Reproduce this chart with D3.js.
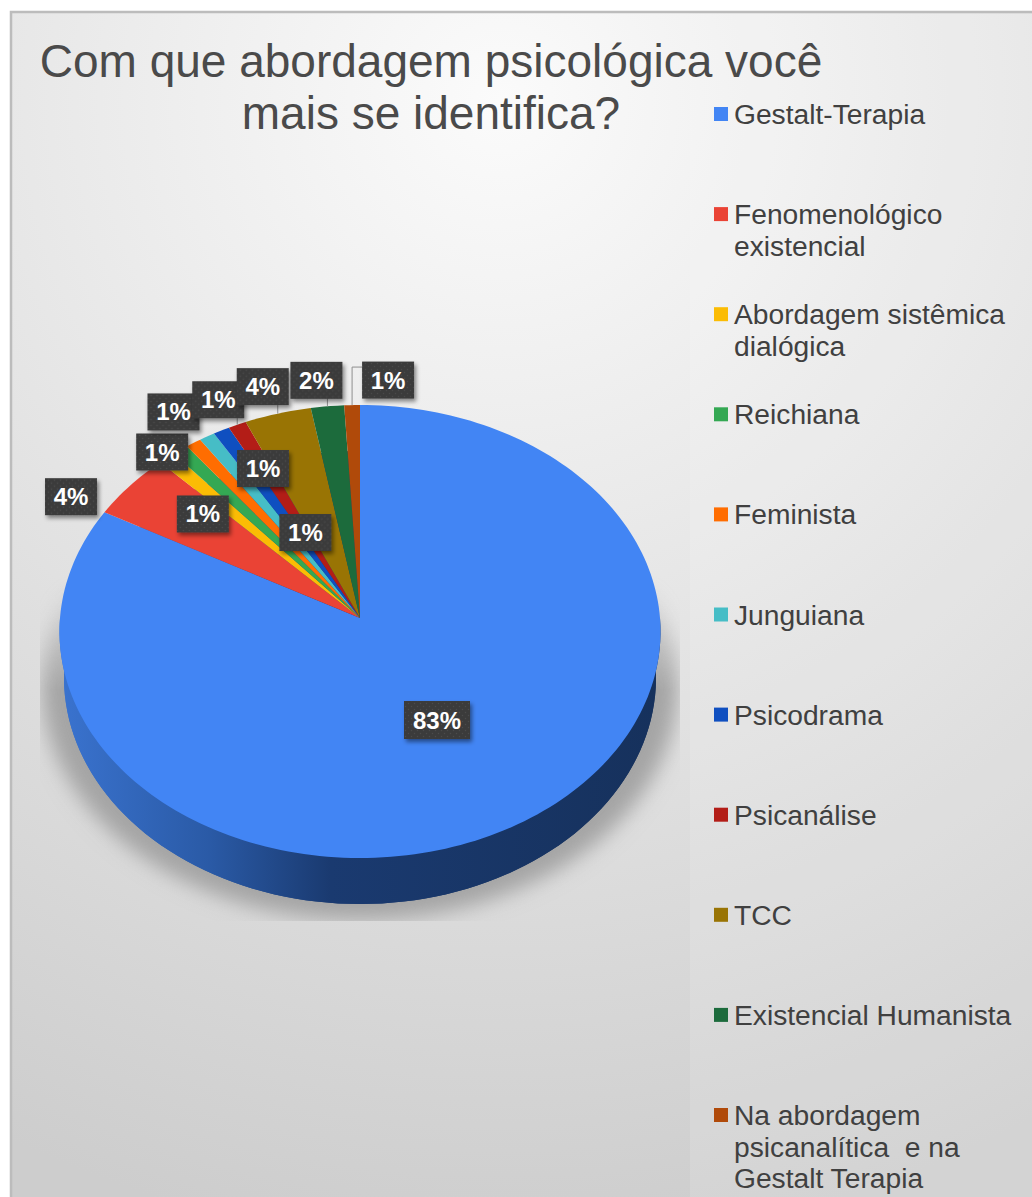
<!DOCTYPE html>
<html>
<head>
<meta charset="utf-8">
<script src="https://cdn.jsdelivr.net/npm/d3@7"></script>
<style>
  html, body { margin: 0; padding: 0; background: #fff; }
  svg { display: block; font-family: "Liberation Sans", Arial, sans-serif; }
</style>
</head>
<body>
<div id="chart"></div>
<script>
const titleLines = ['Com que abordagem psicológica você', 'mais se identifica?'];
const categories = [
  ['Gestalt-Terapia'],
  ['Fenomenológico', 'existencial'],
  ['Abordagem sistêmica', 'dialógica'],
  ['Reichiana'],
  ['Feminista'],
  ['Junguiana'],
  ['Psicodrama'],
  ['Psicanálise'],
  ['TCC'],
  ['Existencial Humanista'],
  ['Na abordagem', 'psicanalítica  e na', 'Gestalt Terapia']
];
const values = [83, 4.78, 0.97, 0.92, 0.89, 0.89, 0.94, 1.03, 3.8, 1.89, 0.89];
const valueLabels = ['83%', '4%', '1%', '1%', '1%', '1%', '1%', '1%', '4%', '2%', '1%'];
const colors = ['#4285f4', '#ea4335', '#fbbc04', '#34a853', '#ff6d01', '#46bdc6', '#0f4fc0', '#b31d17', '#997404', '#1c6b3c', '#b04a0a'];

const width = 1032, height = 1197;
const cx = 360, cy = 618;
const rx = 300, depth = 46;
// perspective of the tilted disc
const persp = -0.0596, tilt = 225.7;

function project(a, r = 1, dy = 0, sx = 1) {
  const Y = -Math.cos(a) * r;
  const w = 1 + persp * Y;
  return [cx + rx * sx * Math.sin(a) * r / w, cy + tilt * Y / w + dy];
}

const line = d3.line();
const svg = d3.select('#chart').append('svg')
  .attr('width', width)
  .attr('height', height);
const defs = svg.append('defs');

const bg = defs.append('radialGradient').attr('id', 'bg')
  .attr('gradientUnits', 'userSpaceOnUse')
  .attr('cx', 500).attr('cy', 100).attr('r', 1150);
bg.append('stop').attr('offset', 0).attr('stop-color', '#fbfbfb');
bg.append('stop').attr('offset', 1).attr('stop-color', '#cdcdcd');

const wall = defs.append('linearGradient').attr('id', 'wall')
  .attr('gradientUnits', 'userSpaceOnUse')
  .attr('x1', cx - rx).attr('x2', cx + rx).attr('y1', 0).attr('y2', 0);
wall.append('stop').attr('offset', 0).attr('stop-color', '#3a73cf');
wall.append('stop').attr('offset', 0.25).attr('stop-color', '#2a5aa6');
wall.append('stop').attr('offset', 0.45).attr('stop-color', '#1a3a70');
wall.append('stop').attr('offset', 1).attr('stop-color', '#16315c');

defs.append('filter').attr('id', 'soft')
  .attr('x', '-10%').attr('y', '-10%').attr('width', '120%').attr('height', '120%')
  .append('feGaussianBlur').attr('stdDeviation', 10);
defs.append('filter').attr('id', 'boxShadow')
  .attr('x', '-20%').attr('y', '-20%').attr('width', '150%').attr('height', '150%')
  .append('feDropShadow')
  .attr('dx', 2).attr('dy', 3).attr('stdDeviation', 2.2)
  .attr('flood-color', '#000').attr('flood-opacity', 0.45);

const dots = defs.append('pattern').attr('id', 'dots')
  .attr('patternUnits', 'userSpaceOnUse').attr('width', 6).attr('height', 6);
dots.append('rect').attr('width', 6).attr('height', 6).attr('fill', '#3b3b3b');
dots.append('circle').attr('cx', 1.5).attr('cy', 1.5).attr('r', 0.7).attr('fill', '#4c4c4c');
dots.append('circle').attr('cx', 4.5).attr('cy', 4.5).attr('r', 0.7).attr('fill', '#4c4c4c');

defs.append('clipPath').attr('id', 'shadowClip')
  .append('rect').attr('x', 40).attr('y', 570).attr('width', 640).attr('height', 351);

// shadow fades out towards the top of the pie
const fade = defs.append('linearGradient').attr('id', 'fade')
  .attr('gradientUnits', 'userSpaceOnUse')
  .attr('x1', 0).attr('x2', 0).attr('y1', 575).attr('y2', 690);
fade.append('stop').attr('offset', 0).attr('stop-color', '#000');
fade.append('stop').attr('offset', 1).attr('stop-color', '#fff');
defs.append('mask').attr('id', 'shadowMask')
  .attr('maskUnits', 'userSpaceOnUse')
  .attr('x', 0).attr('y', 0).attr('width', width).attr('height', height)
  .append('rect').attr('width', width).attr('height', height).attr('fill', 'url(#fade)');

// frame
svg.append('rect').attr('x', 11).attr('y', 12)
  .attr('width', width).attr('height', height)
  .attr('fill', 'url(#bg)')
  .attr('stroke', '#bcbcbc').attr('stroke-width', 2.5);
svg.append('rect').attr('x', 690).attr('y', 14)
  .attr('width', width - 690).attr('height', height)
  .attr('fill', '#fff').attr('opacity', 0.13);

svg.append('g').selectAll('text')
  .data(titleLines)
  .join('text')
  .attr('x', 431)
  .attr('y', (d, i) => 77 + i * 52)
  .attr('text-anchor', 'middle')
  .attr('font-size', 46)
  .attr('fill', '#4a4a4a')
  .text(d => d);

// shadow under the pie
svg.append('g').attr('clip-path', 'url(#shadowClip)')
  .append('g').attr('mask', 'url(#shadowMask)')
  .append('ellipse')
  .attr('cx', cx).attr('cy', 686)
  .attr('rx', 318).attr('ry', 234)
  .attr('fill', '#a4a4a4')
  .attr('filter', 'url(#soft)');

const angleSteps = n => d3.range(n + 1).map(i => i / n);
const circle = angleSteps(180).map(t => t * 2 * Math.PI);

// side wall: lower half of the rim plus a slightly narrower copy moved down
const lowerRim = angleSteps(90).map(t => Math.PI / 2 + t * Math.PI);
svg.append('path')
  .attr('d', line(lowerRim.map(a => project(a))
    .concat(lowerRim.slice().reverse().map(a => project(a, 1, depth, 0.985)))) + 'Z')
  .attr('fill', 'url(#wall)');
svg.append('path')
  .attr('d', line(circle.map(a => project(a, 1, depth, 0.985))) + 'Z')
  .attr('fill', 'url(#wall)');

const pie = d3.pie().sort(null)(values);

svg.append('g').selectAll('path')
  .data(pie)
  .join('path')
  .attr('d', d => {
    const n = Math.max(2, Math.ceil((d.endAngle - d.startAngle) * 40));
    const rim = angleSteps(n).map(t => project(d.startAngle + t * (d.endAngle - d.startAngle)));
    return line([[cx, cy], ...rim]) + 'Z';
  })
  .attr('fill', (d, i) => colors[i]);

// value labels: placed relative to each slice's rim midpoint
const labelOffsets = [
  [77, 102], [-59, 11], [36, 56], [-18, 2], [-20, -31], [56, 32],
  [84, 102], [-19, -25], [-15, -27], [-11, -26], [36, -25]
];
const boxW = 52, boxH = 37;
const mid = d => (d.startAngle + d.endAngle) / 2;
const leaderFor = [7, 8, 9, 10];

const labels = pie.map((d, i) => {
  const rim = project(mid(d));
  const at = i === 0 ? [cx, cy] : rim;
  return { i, rim, x: at[0] + labelOffsets[i][0], y: at[1] + labelOffsets[i][1], w: i === 0 ? 66 : boxW, h: i === 0 ? 38 : boxH };
});

svg.append('g').selectAll('path')
  .data(labels.filter(d => leaderFor.includes(d.i)))
  .join('path')
  .attr('d', d => {
    if (d.i === 10) return line([[d.x, d.y - 13], [d.rim[0], d.y - 13], d.rim]);
    return line([[d.rim[0], d.y], d.rim]);
  })
  .attr('fill', 'none')
  .attr('stroke', '#8f8f8f')
  .attr('stroke-width', 1);

const labelG = svg.append('g').selectAll('g')
  .data(labels)
  .join('g')
  .attr('transform', d => `translate(${d.x},${d.y})`);
labelG.append('rect')
  .attr('x', d => -d.w / 2).attr('y', d => -d.h / 2)
  .attr('width', d => d.w).attr('height', d => d.h)
  .attr('fill', 'url(#dots)')
  .attr('filter', 'url(#boxShadow)');
labelG.append('text')
  .attr('text-anchor', 'middle')
  .attr('y', 8.5)
  .attr('font-size', 24)
  .attr('font-weight', 700)
  .attr('fill', '#fff')
  .text(d => valueLabels[d.i]);

// legend
const legendY = d3.scaleLinear().domain([0, categories.length - 1]).range([114, 1115]);
const legend = svg.append('g').selectAll('g')
  .data(categories)
  .join('g')
  .attr('transform', (d, i) => `translate(714,${legendY(i)})`);
legend.append('rect')
  .attr('x', 0).attr('y', -7)
  .attr('width', 14).attr('height', 14)
  .attr('fill', (d, i) => colors[i]);
legend.selectAll('text')
  .data(d => d)
  .join('text')
  .attr('x', 20)
  .attr('y', (d, i) => 10 + i * 31.5)
  .attr('font-size', 28.2)
  .attr('fill', '#404040')
  .style('white-space', 'pre')
  .text(d => d);
</script>
</body>
</html>
